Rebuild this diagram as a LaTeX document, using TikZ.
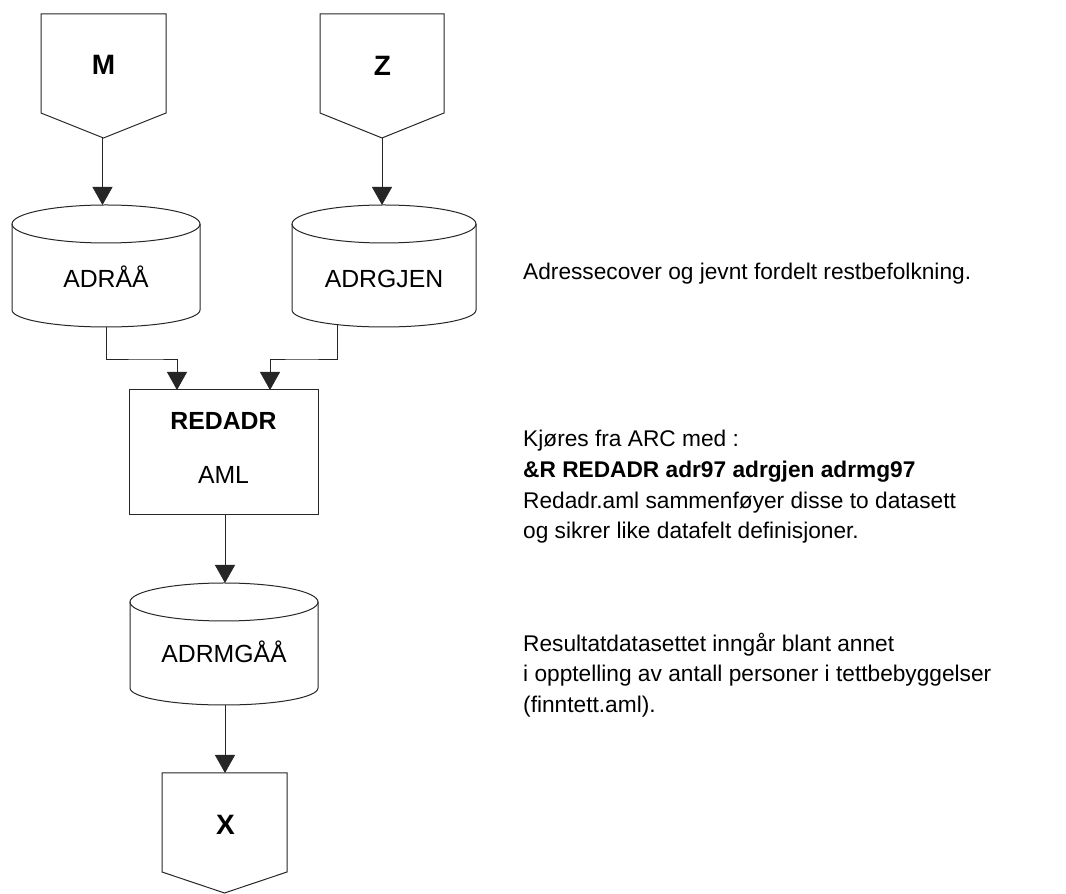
\documentclass[tikz,border=0pt]{standalone}
\usepackage{fontspec}
\setmainfont{Liberation Sans}
\usetikzlibrary{arrows.meta,calc}

% drum (data set) outline: centre x, top-ellipse centre y, bottom-ellipse centre y, x radius
\newcommand\drumshape[4]{%
  \draw[outline] (#1,#2) ellipse [x radius=#4, y radius=19];
  \draw[outline] ({#1-#4},#2) -- ({#1-#4},#3)
    arc [start angle=180, end angle=360, x radius=#4, y radius=17] -- ({#1+#4},#2);
}
% off-page connector outline: left x, right x, top y, side bottom y, point y
\newcommand\pageshape[5]{%
  \draw[outline] (#1,#3) -- (#2,#3) -- (#2,#4) -- ({(#1+#2)/2},#5) -- (#1,#4) -- cycle;
}

\begin{document}
\begin{tikzpicture}[x=1pt,y=1pt,
  outline/.style={draw=black!85, line width=1pt},
  flow/.style={draw=black!85, line width=0.8pt, -{Triangle[width=20pt,length=18pt]}},
  bigletter/.style={anchor=base, inner sep=0pt, font=\fontsize{28}{30}\selectfont\bfseries},
  lbl/.style={anchor=base, inner sep=0pt, font=\fontsize{24.8}{30}\selectfont},
  blbl/.style={lbl, font=\fontsize{24.8}{30}\selectfont\bfseries},
  note/.style={anchor=base west, inner sep=0pt, font=\fontsize{22.7}{30}\selectfont},
  bnote/.style={note, font=\fontsize{22.7}{30}\selectfont\bfseries}]
\useasboundingbox (0,0) rectangle (1066,894);

% ---- input connectors M and Z
\pageshape{41}{166}{880}{781}{756}
\pageshape{320}{444}{880}{781}{756}
\node[bigletter] (M) at (103.5,819) {M};
\node[bigletter] (Z) at (382.5,818) {Z};
\coordinate (M-tip) at (102.5,756);
\coordinate (Z-tip) at (382,756);

% ---- data sets ADRÅÅ and ADRGJEN
\drumshape{106}{670}{584}{94}
\drumshape{384}{670}{584}{92}
\node[lbl] (adraa) at (106,606) {ADRÅÅ};
\node[lbl] (adrgjen) at (384,606) {ADRGJEN};
\coordinate (adraa-in) at (102.5,689);
\coordinate (adrgjen-in) at (382,689);
\coordinate (adraa-out) at (106,567);
\coordinate (adrgjen-out) at (337,569.5);

% ---- AML program box
\node[outline, minimum width=189pt, minimum height=125pt, inner sep=0pt] (redadr) at (223.5,441.5) {};
\node[blbl] (redadr-name) at (223.5,464) {REDADR};
\node[lbl] (redadr-type) at (223.5,410) {AML};
\coordinate (redadr-in1) at (177,504);
\coordinate (redadr-in2) at (270,504);
\coordinate (redadr-out) at (225,379);

% ---- result data set ADRMGÅÅ
\drumshape{224}{292}{206}{94}
\node[lbl] (adrmgaa) at (224,231) {ADRMGÅÅ};
\coordinate (adrmgaa-in) at (225,311);
\coordinate (adrmgaa-out) at (225,189);

% ---- output connector X
\pageshape{162}{287}{121}{22}{1}
\node[bigletter] (X) at (225.5,59) {X};
\coordinate (X-in) at (225,121);

% ---- flow lines
\draw[flow] (M-tip) -- (adraa-in);
\draw[flow] (Z-tip) -- (adrgjen-in);
\draw[flow] (adraa-out) |- (150,535) -| (redadr-in1);
\draw[flow] (adrgjen-out) |- (300,535) -| (redadr-in2);
\draw[flow] (redadr-out) -- (adrmgaa-in);
\draw[flow] (adrmgaa-out) -- (X-in);

% ---- notes
\node[note] (note1) at (523,614) {Adressecover og jevnt fordelt restbefolkning.};
\node[note] (note2a) at (523,447) {Kjøres fra ARC med :};
\node[bnote] (note2b) at (523,416) {\&R REDADR adr97 adrgjen adrmg97};
\node[note] (note2c) at (523,385) {Redadr.aml sammenføyer disse to datasett};
\node[note] (note2d) at (523,355) {og sikrer like datafelt definisjoner.};
\node[note] (note3a) at (523,242) {Resultatdatasettet inngår blant annet};
\node[note] (note3b) at (523,212) {i opptelling av antall personer i tettbebyggelser};
\node[note] (note3c) at (523,181) {(finntett.aml).};
\end{tikzpicture}
\end{document}
